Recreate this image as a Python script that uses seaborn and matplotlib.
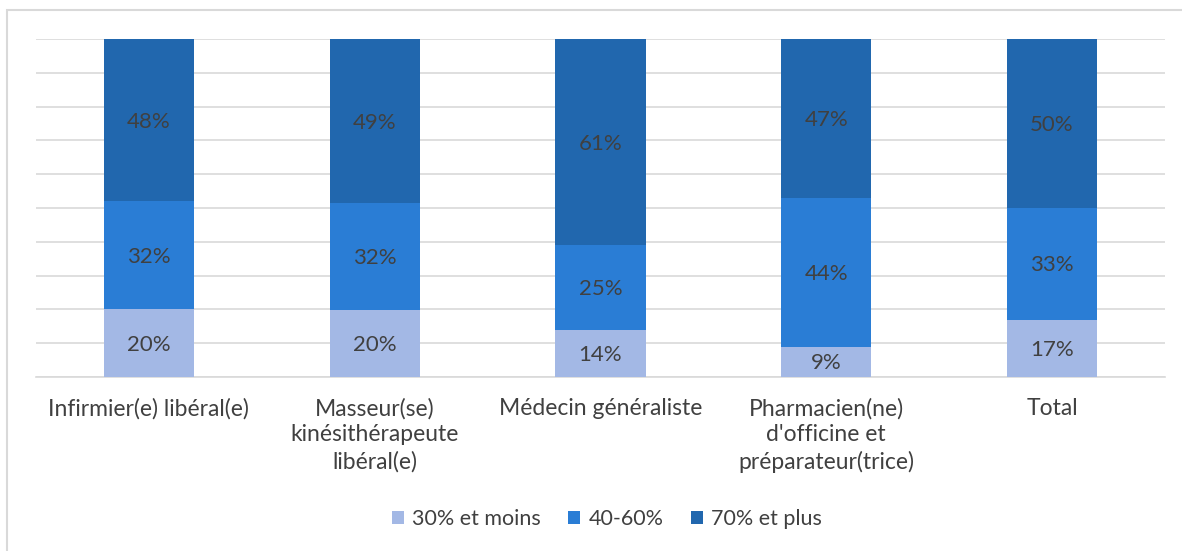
import matplotlib
matplotlib.use("Agg")
import matplotlib.pyplot as plt
from matplotlib.patches import Patch, Rectangle
import seaborn as sns
import pandas as pd
import numpy as np

categories = ["Infirmier(e) libéral(e)",
              "Masseur(se)\nkinésithérapeute\nlibéral(e)",
              "Médecin généraliste",
              "Pharmacien(ne)\nd'officine et\npréparateur(trice)",
              "Total"]
series_names = ["30% et moins", "40-60%", "70% et plus"]
low = [20, 20, 14, 9, 17]
mid = [32, 32, 25, 44, 33]
high = [48, 49, 61, 47, 50]
colors = ["#A3B8E5", "#2A7DD5", "#2167AE"]

sns.set_theme(style="white")
plt.rcParams['font.family'] = ['Lato', 'DejaVu Sans']
text_color = "#404040"

vals = np.array([low, mid, high], dtype=float)
shares = vals / vals.sum(axis=0) * 100
cum = np.cumsum(shares, axis=0)

fig = plt.figure(figsize=(11.82, 5.51), dpi=100)
ax = fig.add_axes([36/1182, 1-377/551, (1165-36)/1182, (377-39)/551])

# draw from top layer down so that lower layers cover the upper cumulative bars
for i in [2, 1, 0]:
    df = pd.DataFrame({"cat": categories, "v": cum[i]})
    sns.barplot(data=df, x="cat", y="v", color=colors[i], width=0.4,
                saturation=1, ax=ax, linewidth=0, zorder=3)

for j in range(len(categories)):
    for i in range(3):
        bottom = cum[i-1][j] if i > 0 else 0
        center = bottom + shares[i][j] / 2
        ax.text(j, center - 0.5, f"{int(vals[i][j])}%", ha="center", va="center",
                fontsize=16, color=text_color, zorder=5)

ax.set_ylim(0, 100)
ax.set_xlim(-0.5, len(categories) - 0.5)
ax.set_yticks(np.arange(0, 101, 10))
ax.set_yticklabels([])
ax.tick_params(axis="y", length=0)
ax.tick_params(axis="x", length=0, pad=15, labelsize=16.5, labelcolor=text_color)
for lbl in ax.get_xticklabels():
    lbl.set_linespacing(1.3)
    lbl.set_verticalalignment("top")
ax.yaxis.grid(True, color="#D9D9D9", linewidth=1.2, zorder=0)
ax.set_axisbelow(True)
ax.set_xlabel("")
ax.set_ylabel("")
for s in ["top", "right", "left"]:
    ax.spines[s].set_visible(False)
ax.spines["bottom"].set_color("#D9D9D9")
ax.spines["bottom"].set_linewidth(1.2)

handles = [Patch(facecolor=c, edgecolor="none", label=n) for c, n in zip(colors, series_names)]
fig.legend(handles=handles, loc="center", bbox_to_anchor=(607/1182, 1-519/551), ncol=3,
           frameon=False, fontsize=15.5, handlelength=0.56, handleheight=0.56,
           handletextpad=0.37, columnspacing=1.3, labelcolor=text_color)

fig.patches.append(Rectangle((7/1182, -0.1), 1.2, 1 - 10/551 + 0.1, transform=fig.transFigure,
                             fill=False, edgecolor="#D9D9D9", linewidth=1.5))

fig.savefig("out.png", dpi=100, facecolor="white")
